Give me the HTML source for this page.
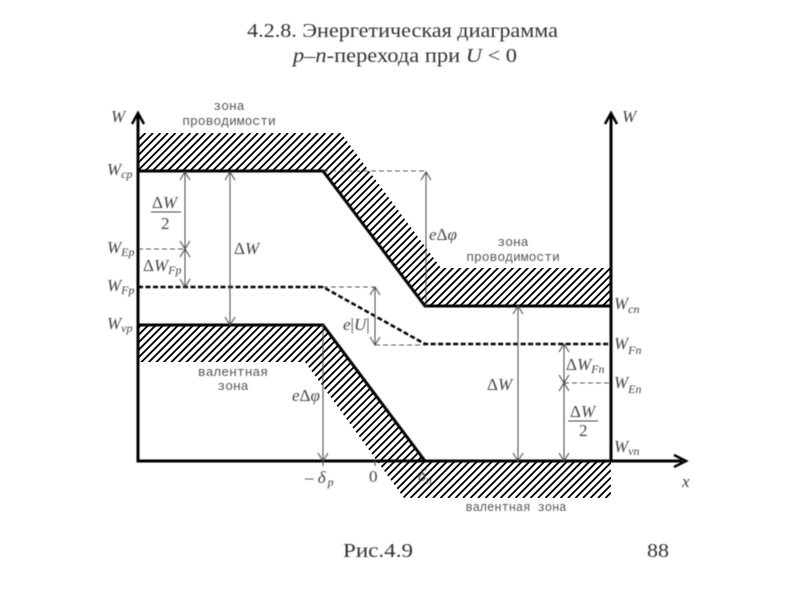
<!DOCTYPE html>
<html><head><meta charset="utf-8"><style>
html,body{margin:0;padding:0;background:#fff;width:800px;height:600px;overflow:hidden}
svg{display:block}
.t{font-family:"Liberation Serif",serif;fill:#333}
.z{font-family:"Liberation Mono",monospace;font-size:13px;fill:#555;text-anchor:middle}
.i{font-family:"Liberation Serif",serif;font-style:italic;fill:#444;font-size:17px}
.s{font-size:12px}
.g{font-family:"Liberation Serif",serif;fill:#444;font-size:17px}
</style></head><body>
<svg width="800" height="600" viewBox="0 0 800 600" xmlns="http://www.w3.org/2000/svg">
<defs>
<clipPath id="c"><path d="M138 133H341L441 268H611V306H425L323 171H138Z"/><path d="M138 325H323L425 461H611V498H404L305 362H138Z"/></clipPath>
<filter id="b" x="-5%" y="-5%" width="110%" height="110%"><feGaussianBlur stdDeviation="0.45"/></filter>
</defs>
<!-- hatched regions -->
<g clip-path="url(#c)">
<path stroke="#000" stroke-width="1.85" fill="none" d="M138 140.5l7.5-7.5M138 148l15-15M138 155.5l22.5-22.5M138 163l30-30M138 170.5l37.5-37.5M138 178l45-45M138 185.5l52.5-52.5M138 193l60-60M138 200.5l67.5-67.5M138 208l75-75M138 215.5l82.5-82.5M138 223l90-90M138 230.5l97.5-97.5M138 238l105-105M138 245.5l112.5-112.5M138 253l120-120M138 260.5l127.5-127.5M138 268l135-135M138 275.5l142.5-142.5M138 283l150-150M138 290.5l157.5-157.5M138 298l165-165M138 305.5l172.5-172.5M138 313l180-180M138 320.5l187.5-187.5M138 328l195-195M138 335.5l202.5-202.5M138 343l210-210M138 350.5l217.5-217.5M138 358l225-225M138 365.5l232.5-232.5M138 373l240-240M138 380.5l247.5-247.5M138 388l255-255M138 395.5l262.5-262.5M138 403l270-270M138 410.5l277.5-277.5M138 418l285-285M138 425.5l292.5-292.5M138 433l300-300M138 440.5l307.5-307.5M138 448l315-315M138 455.5l322.5-322.5M138 463l330-330M138 470.5l337.5-337.5M138 478l345-345M138 485.5l352.5-352.5M138 493l360-360M140.5 498l365-365M148 498l365-365M155.5 498l365-365M163 498l365-365M170.5 498l365-365M178 498l365-365M185.5 498l365-365M193 498l365-365M200.5 498l365-365M208 498l365-365M215.5 498l365-365M223 498l365-365M230.5 498l365-365M238 498l365-365M245.5 498l365-365M253 498l358-358M260.5 498l350.5-350.5M268 498l343-343M275.5 498l335.5-335.5M283 498l328-328M290.5 498l320.5-320.5M298 498l313-313M305.5 498l305.5-305.5M313 498l298-298M320.5 498l290.5-290.5M328 498l283-283M335.5 498l275.5-275.5M343 498l268-268M350.5 498l260.5-260.5M358 498l253-253M365.5 498l245.5-245.5M373 498l238-238M380.5 498l230.5-230.5M388 498l223-223M395.5 498l215.5-215.5M403 498l208-208M410.5 498l200.5-200.5M418 498l193-193M425.5 498l185.5-185.5M433 498l178-178M440.5 498l170.5-170.5M448 498l163-163M455.5 498l155.5-155.5M463 498l148-148M470.5 498l140.5-140.5M478 498l133-133M485.5 498l125.5-125.5M493 498l118-118M500.5 498l110.5-110.5M508 498l103-103M515.5 498l95.5-95.5M523 498l88-88M530.5 498l80.5-80.5M538 498l73-73M545.5 498l65.5-65.5M553 498l58-58M560.5 498l50.5-50.5M568 498l43-43M575.5 498l35.5-35.5M583 498l28-28M590.5 498l20.5-20.5M598 498l13-13M605.5 498l5.5-5.5"/>
</g>
<g filter="url(#b)">
<text class="t" x="247" y="37" font-size="19.5" textLength="311" lengthAdjust="spacingAndGlyphs">4.2.8. Энергетическая диаграмма</text>
<text class="t" x="293" y="62" font-size="19.5" textLength="224" lengthAdjust="spacingAndGlyphs"><tspan font-style="italic">p–n</tspan>-перехода при <tspan font-style="italic">U</tspan> &lt; 0</text>
<text class="t" x="343" y="557" font-size="19.5" textLength="70" lengthAdjust="spacingAndGlyphs">Рис.4.9</text>
<text class="t" x="647" y="557" font-size="19.5" textLength="22" lengthAdjust="spacingAndGlyphs">88</text>

<!-- thin dashed -->
<g stroke="#555" stroke-width="1" fill="none" stroke-dasharray="5 3">
<path d="M323 171H426"/><path d="M138 249H185"/><path d="M323 287H375"/><path d="M375 345H425"/><path d="M564 383H611"/>
</g>

<!-- thick band edges -->
<g stroke="#000" fill="none" stroke-width="3">
<path d="M138 171H323L425 306H611"/>
<path d="M138 325H323L425 461"/>
<path d="M138 113V461H682"/>
<path d="M611 113V461"/>
<path d="M132 124L138 113L144 124" stroke-width="2.5"/>
<path d="M605 124L611 113L617 124" stroke-width="2.5"/>
<path d="M674 455L686 461L674 467" stroke-width="2.5"/>
</g>
<path d="M138 287H323L425 344H611" stroke="#000" fill="none" stroke-width="2.5" stroke-dasharray="5 2.5"/>

<!-- dimension arrows -->
<g stroke="#444" stroke-width="1" fill="none">
<path d="M185 172V287M180 180L185 172L190 180M180 241L185 249L190 241M180 257L185 249L190 257M180 279L185 287L190 279"/>
<path d="M230 172V325M225 180L230 172L235 180M225 317L230 325L235 317"/>
<path d="M426 172V306M421 180L426 172L431 180"/>
<path d="M375 287V345M370 295L375 287L380 295M370 337L375 345L380 337"/>
<path d="M323 325V461M318 453L323 461L328 453"/>
<path d="M518 306V461M513 314L518 306L523 314M513 453L518 461L523 453"/>
<path d="M564 344V461M559 352L564 344L569 352M559 375L564 383L569 375M559 391L564 383L569 391M559 453L564 461L569 453"/>
<path d="M375 461V466M323 461V466"/>
<path d="M151 212H181M568 421H598"/>
</g>

<!-- zone labels -->
<text class="z" x="229" y="110">зона</text>
<text class="z" x="229" y="125">проводимости</text>
<text class="z" x="513" y="246">зона</text>
<text class="z" x="513" y="261">проводимости</text>
<text class="z" x="233" y="376">валентная</text>
<text class="z" x="233" y="390">зона</text>
<text class="z" x="516" y="511" textLength="101" lengthAdjust="spacingAndGlyphs">валентная зона</text>

<!-- axis/level labels -->
<text class="i" x="111" y="122">W</text>
<text class="i" x="622" y="122">W</text>
<text class="i" x="107" y="175">W<tspan class="s" dy="3">cp</tspan></text>
<text class="i" x="107" y="253">W<tspan class="s" dy="3">Ep</tspan></text>
<text class="i" x="107" y="291">W<tspan class="s" dy="3">Fp</tspan></text>
<text class="i" x="107" y="329">W<tspan class="s" dy="3">vp</tspan></text>
<text class="i" x="614" y="309">W<tspan class="s" dy="4">cn</tspan></text>
<text class="i" x="614" y="349">W<tspan class="s" dy="5">Fn</tspan></text>
<text class="i" x="614" y="388">W<tspan class="s" dy="5">En</tspan></text>
<text class="i" x="614" y="452">W<tspan class="s" dy="3">vn</tspan></text>

<text class="g" x="152" y="208">Δ<tspan font-style="italic">W</tspan></text>
<text class="g" x="161" y="229">2</text>
<text class="g" x="143" y="271">Δ<tspan font-style="italic">W</tspan><tspan class="s" font-style="italic" dy="3">Fp</tspan></text>
<text class="g" x="234" y="254">Δ<tspan font-style="italic">W</tspan></text>
<text class="g" x="429" y="240"><tspan font-style="italic">e</tspan>Δ<tspan font-style="italic">φ</tspan></text>
<text class="g" x="343" y="330"><tspan font-style="italic">e</tspan>|<tspan font-style="italic">U</tspan>|</text>
<text class="g" x="292" y="401"><tspan font-style="italic">e</tspan>Δ<tspan font-style="italic">φ</tspan></text>
<text class="g" x="487" y="390">Δ<tspan font-style="italic">W</tspan></text>
<text class="g" x="566" y="370">Δ<tspan font-style="italic">W</tspan><tspan class="s" font-style="italic" dy="3">Fn</tspan></text>
<text class="g" x="570" y="417">Δ<tspan font-style="italic">W</tspan></text>
<text class="g" x="579" y="436">2</text>
<text class="g" x="305" y="483">– <tspan font-style="italic">δ</tspan><tspan class="s" font-style="italic" dx="2" dy="3">p</tspan></text>
<text class="g" x="369" y="482">0</text>
<text class="g" x="418" y="481" font-style="italic">δ<tspan class="s" dy="3">n</tspan></text>
<text class="i" x="682" y="487">x</text>
</g>
</svg>
</body></html>
